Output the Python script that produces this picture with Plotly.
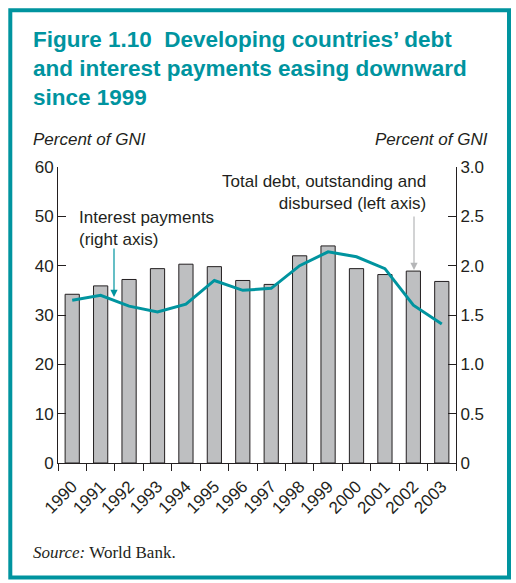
import plotly.graph_objects as go

years = ["1990", "1991", "1992", "1993", "1994", "1995", "1996", "1997",
         "1998", "1999", "2000", "2001", "2002", "2003"]
total_debt = [34.2, 35.9, 37.2, 39.4, 40.3, 39.8, 37.0, 36.2, 42.0, 44.0, 39.4, 38.2, 38.9, 36.8]
interest_payments = [1.65, 1.70, 1.59, 1.53, 1.61, 1.85, 1.75, 1.77, 2.00, 2.14, 2.09, 1.97, 1.60, 1.41]
left_ticks = [0, 10, 20, 30, 40, 50, 60]
right_ticks = [0, 0.5, 1.0, 1.5, 2.0, 2.5, 3.0]
right_labels = ["0", "0.5", "1.0", "1.5", "2.0", "2.5", "3.0"]

W, H = 516, 583
L, R, T, B = 58, 456, 167, 463
TEAL = "#00949F"
DARK = "#231F20"
SANS = "Liberation Sans, Arial, sans-serif"
FS = 17


def px(x):
    return (x - L) / (R - L)


def py(y):
    return (B - y) / (B - T)


fig = go.Figure()
fig.add_trace(go.Bar(
    x=years, y=total_debt, width=0.5,
    marker=dict(color="#BEBFC1", line=dict(color=DARK, width=1)),
    yaxis="y", showlegend=False,
))
fig.add_trace(go.Scatter(
    x=years, y=interest_payments, mode="lines",
    line=dict(color=TEAL, width=3),
    yaxis="y2", showlegend=False,
))

axis_common = dict(showgrid=False, zeroline=False, showline=True, linecolor=DARK,
                   linewidth=1, ticks="inside", ticklen=8, tickcolor=DARK,
                   tickfont=dict(family=SANS, size=FS, color=DARK))

fig.update_layout(
    width=W, height=H,
    margin=dict(l=L, r=W - R, t=T, b=H - B, autoexpand=False),
    paper_bgcolor="white", plot_bgcolor="white",
    bargap=0.5,
    xaxis=dict(type="category", tickson="boundaries", ticks="outside", ticklen=7,
               tickcolor=DARK, showline=True, linecolor=DARK, linewidth=1,
               showgrid=False, tickangle=-45, ticklabelstandoff=6,
               tickfont=dict(family=SANS, size=FS, color=DARK)),
    yaxis=dict(range=[0, 60], tickvals=left_ticks, side="left", **axis_common),
    yaxis2=dict(range=[0, 3], tickvals=right_ticks, ticktext=right_labels,
                overlaying="y", side="right", **axis_common),
)

shapes = [dict(type="rect", xref="paper", yref="paper",
               x0=px(10.3), x1=px(509), y0=py(10.3), y1=py(577.5),
               line=dict(color=TEAL, width=4), fillcolor="rgba(0,0,0,0)", layer="below")]
fig.update_layout(shapes=shapes)

ann = []
title_lines = ["Figure 1.10\u00a0 Developing countries\u2019 debt",
               "and interest payments easing downward",
               "since 1999"]
for i, t in enumerate(title_lines):
    ann.append(dict(text=t, xref="paper", yref="paper", x=px(31), y=py(39 + 29 * i),
                    xanchor="left", yanchor="middle", showarrow=False,
                    font=dict(family=SANS, size=22.5, color=TEAL, weight="bold")))

ann.append(dict(text="<i>Percent of GNI</i>", xref="paper", yref="paper", x=px(31), y=py(139),
                xanchor="left", yanchor="middle", showarrow=False,
                font=dict(family=SANS, size=FS, color=DARK)))
ann.append(dict(text="<i>Percent of GNI</i>", xref="paper", yref="paper", x=px(490), y=py(139),
                xanchor="right", yanchor="middle", showarrow=False,
                font=dict(family=SANS, size=FS, color=DARK)))

ann.append(dict(text="Interest payments<br>(right axis)", xref="paper", yref="paper",
                x=px(77), y=py(228), xanchor="left", yanchor="middle", align="left",
                showarrow=False, font=dict(family=SANS, size=FS, color=DARK)))
ann.append(dict(text="Total debt, outstanding and<br>disbursed (left axis)", xref="paper", yref="paper",
                x=px(428), y=py(192), xanchor="right", yanchor="middle", align="right",
                showarrow=False, font=dict(family=SANS, size=FS, color=DARK)))

ann.append(dict(text="", xref="paper", yref="paper", x=px(114), y=py(297),
                ax=0, ay=-50, showarrow=True, arrowhead=2, arrowsize=1.2, arrowwidth=1.2,
                arrowcolor=TEAL))
ann.append(dict(text="", xref="paper", yref="paper", x=px(414), y=py(270),
                ax=0, ay=-55, showarrow=True, arrowhead=2, arrowsize=1.2, arrowwidth=1.2,
                arrowcolor="#B5B6B8"))

ann.append(dict(text="<i>Source:</i> World Bank.", xref="paper", yref="paper",
                x=px(31), y=py(552), xanchor="left", yanchor="middle", showarrow=False,
                font=dict(family="Liberation Serif, Times New Roman, serif", size=17, color=DARK)))

fig.update_layout(annotations=ann)
fig.write_html("out.html", config={"displayModeBar": False},
               post_script="document.body.style.margin='0';")
